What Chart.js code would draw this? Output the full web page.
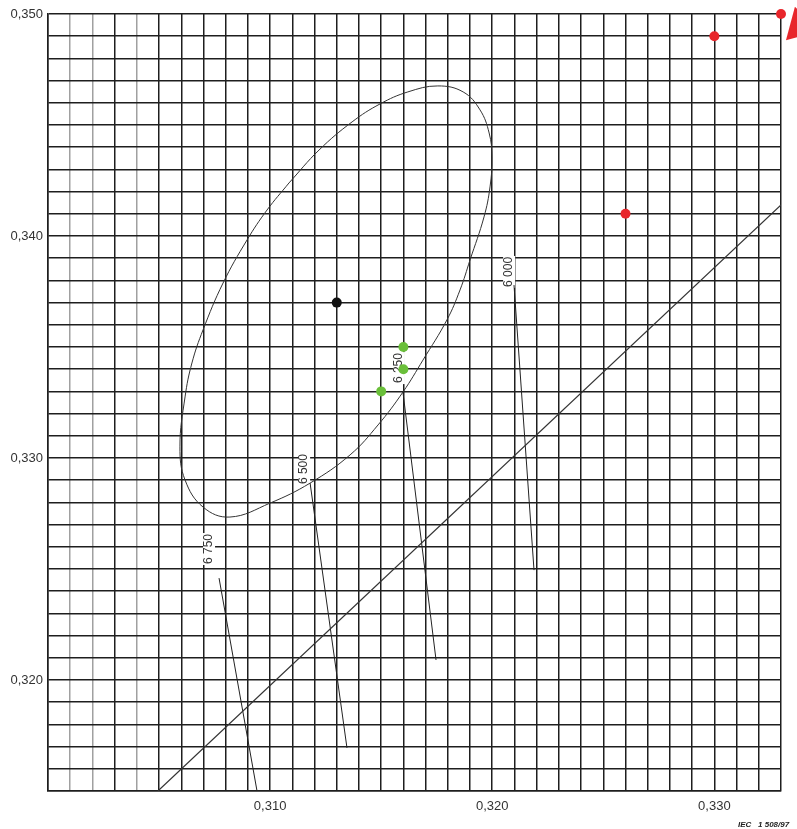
<!DOCTYPE html>
<html>
<head>
<meta charset="utf-8">
<script src="https://cdn.jsdelivr.net/npm/chart.js@4/dist/chart.umd.min.js"></script>
<style>
  body { margin: 0; background: #fff; }
  canvas { display: block; }
</style>
</head>
<body>
<canvas id="cie-chart" width="797" height="829"></canvas>
<script>
// chromaticity coordinates (x, y)
const redX = [0.333, 0.330, 0.326];
const redY = [0.350, 0.349, 0.341];
const greenX = [0.316, 0.316, 0.315];
const greenY = [0.335, 0.334, 0.333];
const centerX = [0.313];
const centerY = [0.337];
const arrowX = [0.33386];
const arrowY = [0.34946];

// tolerance ellipse, traced clockwise starting on the upper-left side
const ellipseX = [0.31085, 0.31220, 0.31369, 0.31495, 0.31620, 0.31755, 0.31869, 0.31945, 0.31986, 0.31999,
  0.31990, 0.31963, 0.31900, 0.31855, 0.31796, 0.31688, 0.31598, 0.31486, 0.31360, 0.31180,
  0.31000, 0.30819, 0.30698, 0.30617, 0.30594, 0.30617, 0.30648, 0.30698, 0.30788, 0.30896,
  0.30986, 0.31085];
const ellipseY = [0.34239, 0.34387, 0.34514, 0.34595, 0.34649, 0.34676, 0.34649, 0.34568, 0.34464, 0.34356,
  0.34221, 0.34086, 0.33892, 0.33757, 0.33622, 0.33441, 0.33297, 0.33149, 0.33014, 0.32887,
  0.32797, 0.32734, 0.32779, 0.32901, 0.33050, 0.33275, 0.33428, 0.33577, 0.33788, 0.33982,
  0.34117, 0.34239];

// straight locus line
const locusX = [0.30495, 0.333];
const locusY = [0.315, 0.3414];

// iso-temperature lines (top point, bottom point)
const cctNames = ['6 000', '6 250', '6 500', '6 750'];
const cctLineX = [[0.32098, 0.32188], [0.31598, 0.31747], [0.31180, 0.31346], [0.30770, 0.30941]];
const cctLineY = [[0.33779, 0.32495], [0.33297, 0.32090], [0.32887, 0.31694], [0.32459, 0.31500]];
const cctLabelX = [0.32076, 0.31580, 0.31153, 0.30725];
const cctLabelY = [0.33838, 0.33405, 0.32950, 0.32590];

// axis ticks that carry a label
const xTickValues = [0.310, 0.320, 0.330];
const xTickLabels = ['0,310', '0,320', '0,330'];
const yTickValues = [0.320, 0.330, 0.340, 0.350];
const yTickLabels = ['0,320', '0,330', '0,340', '0,350'];
const greyGridX = [0.301, 0.302, 0.304];

const pts = (xs, ys) => xs.map((x, i) => ({x: x, y: ys[i]}));
const same = (a, b) => Math.round(a * 1000) === Math.round(b * 1000);

const labelFor = (values, labels) => (v) => {
  const i = values.findIndex(t => same(t, v));
  return i >= 0 ? labels[i] : '';
};

const cctSets = cctNames.map((name, i) => ({
  label: name,
  data: pts(cctLineX[i], cctLineY[i]),
  showLine: true,
  borderColor: '#222',
  borderWidth: 1,
  pointRadius: 0,
  order: 2
}));

// rotated temperature labels (under the dots) and the figure reference
const textPlugin = {
  id: 'texts',
  beforeDatasetsDraw(chart) {
    const {ctx, scales} = chart;
    ctx.save();
    ctx.font = '12px "Liberation Sans", Arial, sans-serif';
    ctx.textAlign = 'center';
    ctx.textBaseline = 'middle';
    cctNames.forEach((name, i) => {
      const px = scales.x.getPixelForValue(cctLabelX[i]);
      const py = scales.y.getPixelForValue(cctLabelY[i]);
      ctx.save();
      ctx.translate(px, py);
      ctx.rotate(-Math.PI / 2);
      ctx.fillStyle = '#fff';
      ctx.fillRect(-16, -6, 32, 12);
      ctx.fillStyle = '#333';
      ctx.fillText(name, 0, 0);
      ctx.restore();
    });
    ctx.restore();
  },
  afterDraw(chart) {
    const {ctx} = chart;
    ctx.save();
    ctx.font = 'italic bold 8px "Liberation Sans", Arial, sans-serif';
    ctx.fillStyle = '#222';
    ctx.fillText('IEC   1 508/97', 738, 827);
    ctx.restore();
  }
};

const ctx = document.getElementById('cie-chart').getContext('2d');
new Chart(ctx, {
  type: 'scatter',
  data: {
    datasets: [
      {label: 'red', data: pts(redX, redY), backgroundColor: '#e8262b', borderWidth: 0, pointRadius: 5, clip: false, order: 0},
      {label: 'green', data: pts(greenX, greenY), backgroundColor: '#6abf3a', borderWidth: 0, pointRadius: 5, order: 0},
      {label: 'center', data: pts(centerX, centerY), backgroundColor: '#111', borderWidth: 0, pointRadius: 5, order: 0},
      {label: 'arrow', data: pts(arrowX, arrowY), backgroundColor: '#e8262b', borderWidth: 0, pointStyle: 'triangle', pointRadius: 20, rotation: -15, clip: false, order: 0},
      {label: 'ellipse', data: pts(ellipseX, ellipseY), showLine: true, tension: 0.4, borderColor: '#333', borderWidth: 1, pointRadius: 0, order: 1},
      {label: 'locus', data: pts(locusX, locusY), showLine: true, borderColor: '#333', borderWidth: 1.2, pointRadius: 0, order: 1},
      ...cctSets
    ]
  },
  options: {
    responsive: false,
    animation: false,
    layout: {autoPadding: false, padding: {left: 0, right: 16, top: 14, bottom: 0}},
    plugins: {legend: {display: false}, tooltip: {enabled: false}},
    scales: {
      x: {
        type: 'linear',
        min: 0.300,
        max: 0.333,
        afterFit: (s) => { s.height = 38; },
        border: {color: '#1e1e1e', width: 1.5},
        grid: {
          drawTicks: false,
          lineWidth: 1.5,
          color: (c) => greyGridX.some(g => same(g, c.tick.value)) ? '#a0a0a0' : '#1e1e1e'
        },
        ticks: {
          stepSize: 0.001,
          autoSkip: false,
          maxRotation: 0,
          padding: 8,
          color: '#333',
          font: {family: '"Liberation Sans", Arial, sans-serif', size: 13},
          callback: labelFor(xTickValues, xTickLabels)
        }
      },
      y: {
        type: 'linear',
        min: 0.315,
        max: 0.350,
        afterFit: (s) => { s.width = 48; },
        border: {color: '#1e1e1e', width: 1.5},
        grid: {drawTicks: false, lineWidth: 1.5, color: '#1e1e1e'},
        ticks: {
          stepSize: 0.001,
          autoSkip: false,
          padding: 5,
          color: '#333',
          font: {family: '"Liberation Sans", Arial, sans-serif', size: 13},
          callback: labelFor(yTickValues, yTickLabels)
        }
      }
    }
  },
  plugins: [textPlugin]
});
</script>
</body>
</html>
